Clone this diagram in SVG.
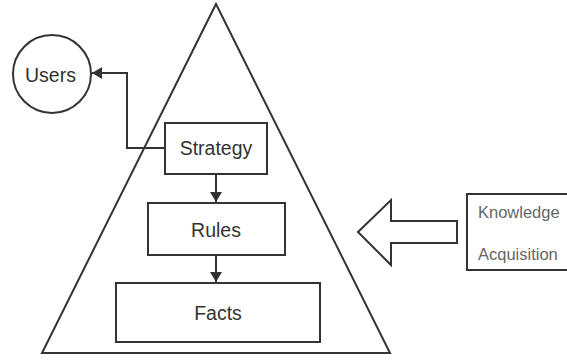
<svg xmlns="http://www.w3.org/2000/svg" width="567" height="360" viewBox="0 0 567 360">
<style>
.s{fill:none;stroke:#333;stroke-width:2}
.b{fill:#fff;stroke:#333;stroke-width:2}
.t{font-family:"Liberation Sans",Arial,sans-serif;font-size:19.5px;fill:#333;text-anchor:middle}
.k{font-family:"Liberation Sans",Arial,sans-serif;font-size:16.5px;fill:#666}
</style>
<defs>
<marker id="ah" markerWidth="10" markerHeight="12" refX="10" refY="6" orient="auto" markerUnits="userSpaceOnUse">
<path d="M0,0 L10,6 L0,12 Z" fill="#333"/>
</marker>
</defs>
<rect width="567" height="360" fill="#fff"/>
<g id="pyramid"><polygon class="s" points="216,4 42,353 390,353"/></g>
<g id="users"><circle class="b" cx="52" cy="74" r="39"/><text class="t" x="50.5" y="82">Users</text></g>
<g id="strategy"><rect class="b" x="165" y="123" width="102" height="51"/><text class="t" x="216" y="155">Strategy</text></g>
<g id="rules"><rect class="b" x="148" y="203" width="137" height="52"/><text class="t" x="216" y="237">Rules</text></g>
<g id="facts"><rect class="b" x="116" y="283" width="204" height="59"/><text class="t" x="218" y="320">Facts</text></g>
<g id="knowledge"><rect class="b" x="467" y="194" width="105" height="76"/><text class="k" x="478" y="218">Knowledge</text><text class="k" x="478" y="260">Acquisition</text></g>
<g id="bigarrow"><polygon class="s" points="358,232 391,200 391,221 457,221 457,243 391,243 391,265"/></g>
<g id="connectors">
<polyline class="s" points="165,148 127,148 127,73 92,73" marker-end="url(#ah)"/>
<line class="s" x1="216" y1="174" x2="216" y2="202" marker-end="url(#ah)"/>
<line class="s" x1="216" y1="255" x2="216" y2="282" marker-end="url(#ah)"/>
</g>
</svg>
